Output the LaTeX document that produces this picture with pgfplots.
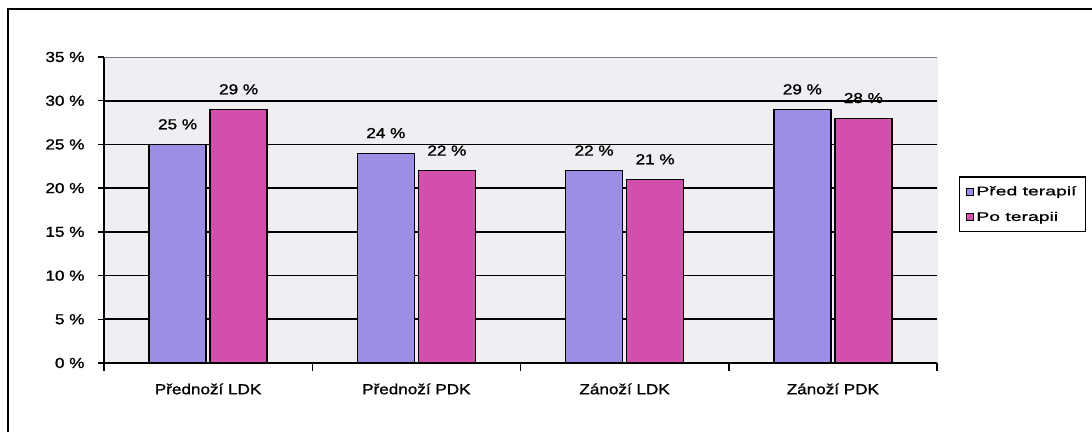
\documentclass[border=0pt]{standalone}
\usepackage{fontspec}
\setmainfont{Liberation Sans}[FakeStretch=1.18,FakeBold=1.2]
\newfontfamily\legfont{Liberation Sans}[FakeStretch=1.55,FakeBold=1.0]
\usepackage{pgfplots}
\pgfplotsset{compat=1.18}
\definecolor{cPred}{HTML}{9C8EE4}
\definecolor{cPo}{HTML}{D44EAC}
\definecolor{bgplot}{HTML}{EFEEF3}
\begin{document}
\begin{tikzpicture}[x=1pt,y=1pt]
\path[use as bounding box] (0,0) rectangle (1092,432);
\draw[line width=1.5pt] (8,0) -- (8,423) -- (1092,423);
\begin{axis}[
  at={(104pt,69pt)}, anchor=south west,
  scale only axis, width=833pt, height=306pt,
  xmin=-0.5, xmax=3.5, ymin=0, ymax=35,
  ybar=4pt, bar width=57pt,
  axis lines=left, axis line style={-, black, line width=1.6pt},
  axis background/.style={fill=bgplot},
  /pgf/number format/assume math mode=true,
  tick align=outside,
  xtick={0,1,2,3},
  xticklabels={Přednoží LDK, Přednoží PDK, Zánoží LDK, Zánoží PDK},
  major x tick style={draw=none},
  minor xtick={-0.5,0.5,1.5,2.5,3.5},
  minor x tick style={black, line width=1.5pt},
  minor tick length=8pt,
  ytick={0,5,...,35},
  yticklabel={\pgfmathprintnumber{\tick}~\%},
  major y tick style={black, line width=1.5pt},
  major tick length=6pt,
  extra y ticks={5,10,...,30},
  extra y tick labels={},
  extra y tick style={grid=major, major grid style={black, line width=1.7pt}},
  ticklabel style={font=\fontsize{14.5}{17}\selectfont},
  xticklabel style={yshift=-11pt},
  yticklabel style={xshift=-10pt},
  nodes near coords={\pgfmathprintnumber{\pgfplotspointmeta}~\%},
  every node near coord/.append style={font=\fontsize{14.5}{17}\selectfont, yshift=11pt},
  legend style={at={(1.026,0.610)}, anchor=north west, draw=black, line width=1.6pt,
    font=\legfont\fontsize{12.5}{14}\selectfont, row sep=11pt, inner sep=7pt},
  legend cell align=left,
  legend image code/.code={\draw[#1, line width=0.9pt, draw=black] (0pt,-3.5pt) rectangle (7pt,3.5pt);},
]
\addplot[fill=cPred, draw=black, line width=1.3pt] coordinates {(0,25) (1,24) (2,22) (3,29)};
\addplot[fill=cPo, draw=black, line width=1.3pt] coordinates {(0,29) (1,22) (2,21) (3,28)};
\legend{Před terapií, Po terapii}
\draw[gray, line width=0.8pt] (rel axis cs:0,1) -- (rel axis cs:1,1) -- (rel axis cs:1,0);
\end{axis}
\end{tikzpicture}
\end{document}
